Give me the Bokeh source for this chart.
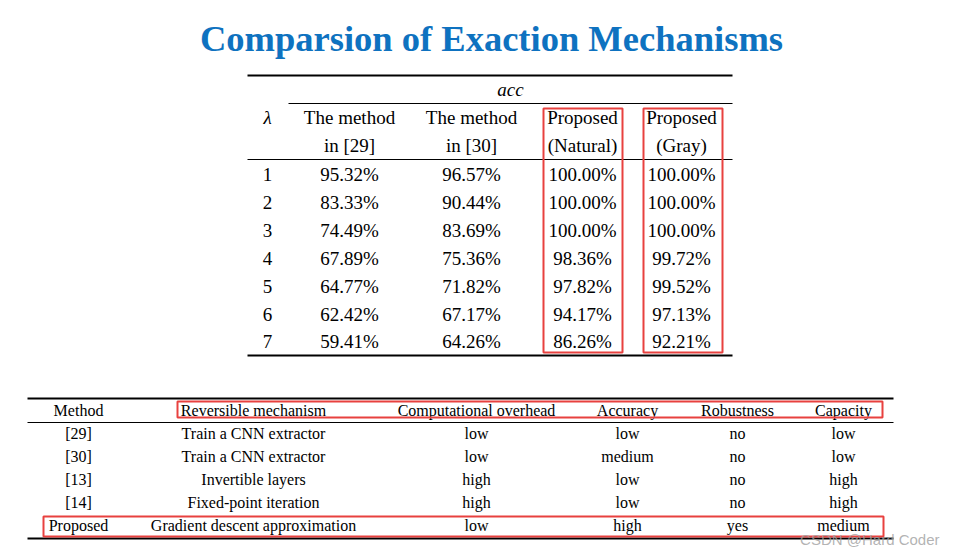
from bokeh.plotting import figure
from bokeh.models import Range1d
from bokeh.core.properties import value
from bokeh.embed import file_html
from bokeh.resources import INLINE

# ---------------- data ----------------
title = "Comparsion of Exaction Mechanisms"
lambdas = ["1", "2", "3", "4", "5", "6", "7"]
acc_m29 = [95.32, 83.33, 74.49, 67.89, 64.77, 62.42, 59.41]
acc_m30 = [96.57, 90.44, 83.69, 75.36, 71.82, 67.17, 64.26]
acc_natural = [100.00, 100.00, 100.00, 98.36, 97.82, 94.17, 86.26]
acc_gray = [100.00, 100.00, 100.00, 99.72, 99.52, 97.13, 92.21]
top_head1 = ["The method", "The method", "Proposed", "Proposed"]
top_head2 = ["in [29]", "in [30]", "(Natural)", "(Gray)"]

cmp_headers = ["Method", "Reversible mechanism", "Computational overhead",
               "Accuracy", "Robustness", "Capacity"]
cmp_method = ["[29]", "[30]", "[13]", "[14]", "Proposed"]
cmp_mechanism = ["Train a CNN extractor", "Train a CNN extractor", "Invertible layers",
                 "Fixed-point iteration", "Gradient descent approximation"]
cmp_overhead = ["low", "low", "high", "high", "low"]
cmp_accuracy = ["low", "medium", "low", "low", "high"]
cmp_robust = ["no", "no", "no", "no", "yes"]
cmp_capacity = ["low", "low", "high", "high", "medium"]
watermark = "CSDN @Hard Coder"

# ---------------- layout ----------------
SERIF = value("Liberation Serif")
RED = "#e8413f"
p = figure(width=940, height=547, output_backend="svg", toolbar_location=None,
           x_range=Range1d(0, 940), y_range=Range1d(547, 0), min_border=0,
           background_fill_color="white", border_fill_color="white")
p.axis.visible = False
p.grid.visible = False
p.outline_line_color = None

# title
p.text(x=[491], y=[38], text=[title], text_font=SERIF, text_font_style="bold",
       text_font_size="36.5px", text_color="#0e72c0", text_align="center",
       text_baseline="middle")

# ---------- top table ----------
tl, tr = 247, 732
lam_x = 267
col_x = [349, 471, 582, 681]
row_y0, row_dy = 174, 27.9
fs = "19px"

p.segment(x0=[tl], y0=[75], x1=[tr], y1=[75], line_color="black", line_width=2)
p.segment(x0=[288], y0=[103], x1=[tr], y1=[103], line_color="black", line_width=1)
p.segment(x0=[tl], y0=[159], x1=[tr], y1=[159], line_color="black", line_width=1)
p.segment(x0=[tl], y0=[355], x1=[tr], y1=[355], line_color="black", line_width=2)

p.text(x=[510], y=[89], text=["acc"], text_font=SERIF, text_font_style="italic",
       text_font_size=fs, text_align="center", text_baseline="middle", text_color="black")
p.text(x=[lam_x], y=[117], text=["λ"], text_font=SERIF, text_font_style="italic",
       text_font_size=fs, text_align="center", text_baseline="middle", text_color="black")
p.text(x=col_x, y=[117] * 4, text=top_head1, text_font=SERIF, text_font_size=fs,
       text_align="center", text_baseline="middle", text_color="black")
p.text(x=col_x, y=[145] * 4, text=top_head2, text_font=SERIF, text_font_size=fs,
       text_align="center", text_baseline="middle", text_color="black")

ys = [row_y0 + i * row_dy for i in range(len(lambdas))]
p.text(x=[lam_x] * len(lambdas), y=ys, text=lambdas, text_font=SERIF, text_font_size=fs,
       text_align="center", text_baseline="middle", text_color="black")
for cx, vals in zip(col_x, [acc_m29, acc_m30, acc_natural, acc_gray]):
    p.text(x=[cx] * len(vals), y=ys, text=[f"{v:.2f}%" for v in vals], text_font=SERIF,
           text_font_size=fs, text_align="center", text_baseline="middle", text_color="black")

# red boxes top table
for x0, x1 in [(543, 622), (643, 722)]:
    p.quad(left=[x0], right=[x1], top=[108], bottom=[352], fill_color=None,
           line_color=RED, line_width=2)

# ---------- bottom table ----------
bl, br = 27, 893
bcol_x = [78, 253, 476, 627, 737, 843]
fs2 = "16px"
p.segment(x0=[bl], y0=[398], x1=[br], y1=[398], line_color="black", line_width=2)
p.segment(x0=[bl], y0=[422], x1=[br], y1=[422], line_color="black", line_width=1)
p.segment(x0=[bl], y0=[538], x1=[br], y1=[538], line_color="black", line_width=2)

p.text(x=bcol_x, y=[410] * 6, text=cmp_headers, text_font=SERIF, text_font_size=fs2,
       text_align="center", text_baseline="middle", text_color="black")
bys = [433 + i * 23 for i in range(len(cmp_method))]
for cx, vals in zip(bcol_x, [cmp_method, cmp_mechanism, cmp_overhead, cmp_accuracy,
                             cmp_robust, cmp_capacity]):
    p.text(x=[cx] * len(vals), y=bys, text=vals, text_font=SERIF, text_font_size=fs2,
           text_align="center", text_baseline="middle", text_color="black")

p.quad(left=[177], right=[882], top=[401], bottom=[417], fill_color=None,
       line_color=RED, line_width=2)
p.quad(left=[43], right=[883], top=[516], bottom=[536], fill_color=None,
       line_color=RED, line_width=2)

# watermark
p.text(x=[939], y=[539], text=[watermark], text_font=value("Liberation Sans"),
       text_font_size="15px", text_color="#a0a0a0", text_alpha=0.8,
       text_align="right", text_baseline="middle")

open("out.html", "w").write(file_html(p, INLINE))
